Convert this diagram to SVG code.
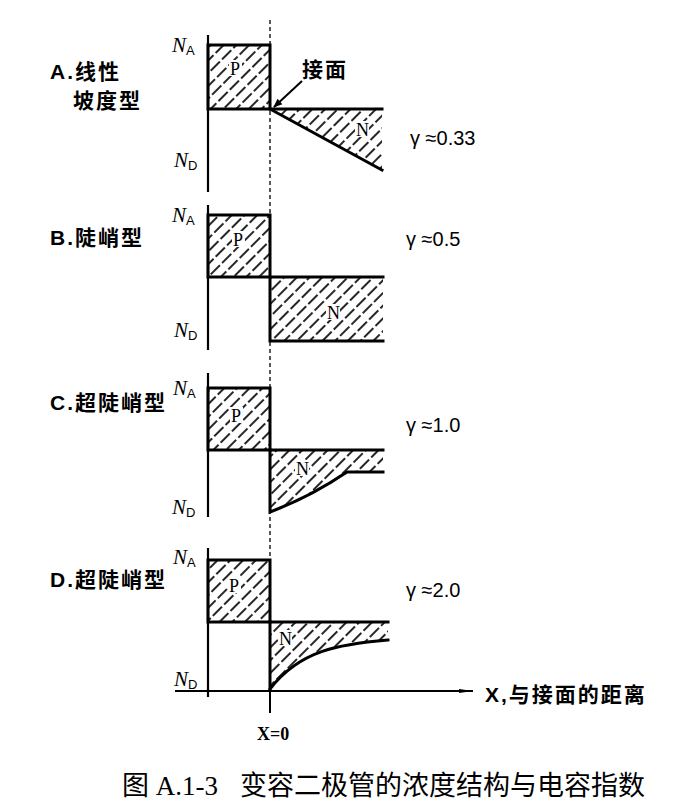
<svg xmlns="http://www.w3.org/2000/svg" width="673" height="807" viewBox="0 0 673 807">
<style>
.bg{fill:#fff}
.edge{stroke:#000;stroke-width:3;fill:none;stroke-linecap:square}
.axis{stroke:#000;stroke-width:2.2;fill:none}
.dash{stroke:#000;stroke-width:1.3;stroke-dasharray:4 3;fill:none}
.hatch{fill:url(#hatch);stroke:none}
.lbl{font-family:"Liberation Sans","Noto Sans CJK SC",sans-serif;font-weight:bold;font-size:21px;fill:#000;letter-spacing:2px}
.nlab{font-family:"Liberation Serif",serif;font-style:italic;font-size:21px;fill:#000}
.sub{font-family:"Liberation Sans",sans-serif;font-style:normal;font-size:13px}
.pn{font-family:"Liberation Serif",serif;font-size:18px;fill:#000}
.gam{font-family:"Liberation Sans",sans-serif;font-size:20px;fill:#000}
.cap{font-family:"Liberation Serif","Noto Sans CJK SC",serif;font-size:27px;fill:#000}
</style>
<defs>
<pattern id="hatch" patternUnits="userSpaceOnUse" width="9" height="16" patternTransform="rotate(45)">
<line x1="1" y1="0" x2="1" y2="16" stroke="#000" stroke-width="1.7" stroke-dasharray="13 3"/>
</pattern>
<marker id="arr" viewBox="0 0 10 10" refX="9" refY="5" markerWidth="10" markerHeight="9" orient="auto" markerUnits="userSpaceOnUse">
<path d="M0,1 L10,5 L0,9 z" fill="#000"/>
</marker>
<marker id="arrx" viewBox="0 0 10 10" refX="10" refY="5" markerWidth="14" markerHeight="7" orient="auto" markerUnits="userSpaceOnUse" preserveAspectRatio="none">
<path d="M0,2 L10,5 L0,8 z" fill="#000"/>
</marker>
</defs>
<rect class="bg" x="0" y="0" width="673" height="807"/>

<g id="connectors">
<line class="dash" x1="270" y1="20" x2="270" y2="713"/>
<line class="axis" x1="208" y1="35" x2="208" y2="192"/>
<line class="axis" x1="208" y1="205" x2="208" y2="350"/>
<line class="axis" x1="208" y1="373" x2="208" y2="517"/>
<line class="axis" x1="208" y1="548" x2="208" y2="697"/>
<line class="axis" x1="175" y1="691" x2="473" y2="691" marker-end="url(#arrx)"/>
<line x1="270" y1="691" x2="270" y2="713" stroke="#000" stroke-width="2"/>
<line x1="302" y1="81" x2="274" y2="107" stroke="#000" stroke-width="2" marker-end="url(#arr)"/>
</g>

<g id="panel-a">
<rect class="hatch" x="208" y="45" width="62" height="64"/>
<rect class="edge" x="208" y="45" width="62" height="64"/>
<polygon class="hatch" points="270,109 382,109 382,170"/>
<line class="edge" x1="270" y1="109" x2="382" y2="109"/>
<line class="edge" x1="270" y1="109" x2="382" y2="170"/>
<rect x="229" y="60" width="13" height="16" fill="#fff"/>
<text class="pn" x="230" y="75">P</text>
<rect x="355" y="121" width="14" height="16" fill="#fff"/>
<text class="pn" x="356" y="136">N</text>
<text class="nlab" x="172" y="52">N<tspan class="sub" dy="3">A</tspan></text>
<text class="nlab" x="174" y="167">N<tspan class="sub" dy="3">D</tspan></text>
<text class="lbl" x="50" y="79">A.线性</text>
<text class="lbl" x="73" y="108">坡度型</text>
<text class="lbl" x="302" y="77" font-size="20" letter-spacing="0">接面</text>
<text class="gam" x="410" y="145">γ ≈0.33</text>
</g>

<g id="panel-b">
<rect class="hatch" x="208" y="215" width="62" height="62"/>
<rect class="edge" x="208" y="215" width="62" height="62"/>
<rect class="hatch" x="270" y="277" width="113" height="64"/>
<polyline class="edge" points="383,277 270,277 270,341 383,341"/>
<rect x="232" y="231" width="13" height="16" fill="#fff"/>
<text class="pn" x="233" y="246">P</text>
<rect x="326" y="304" width="14" height="16" fill="#fff"/>
<text class="pn" x="327" y="319">N</text>
<text class="nlab" x="172" y="222">N<tspan class="sub" dy="3">A</tspan></text>
<text class="nlab" x="174" y="337">N<tspan class="sub" dy="3">D</tspan></text>
<text class="lbl" x="50" y="245">B.陡峭型</text>
<text class="gam" x="406" y="246">γ ≈0.5</text>
</g>

<g id="panel-c">
<rect class="hatch" x="208" y="388" width="62" height="62"/>
<rect class="edge" x="208" y="388" width="62" height="62"/>
<path class="hatch" d="M270,450 L383,450 L383,472 L347,472 Q310,497 270,512 Z"/>
<line class="edge" x1="270" y1="450" x2="383" y2="450"/>
<path class="edge" d="M270,450 L270,512 Q310,497 347,472 L383,472"/>
<rect x="230" y="407" width="13" height="16" fill="#fff"/>
<text class="pn" x="231" y="422">P</text>
<rect x="295" y="460" width="14" height="16" fill="#fff"/>
<text class="pn" x="296" y="475">N</text>
<text class="nlab" x="173" y="395">N<tspan class="sub" dy="3">A</tspan></text>
<text class="nlab" x="172" y="514">N<tspan class="sub" dy="3">D</tspan></text>
<text class="lbl" x="50" y="410">C.超陡峭型</text>
<text class="gam" x="406" y="432">γ ≈1.0</text>
</g>

<g id="panel-d">
<rect class="hatch" x="208" y="560" width="62" height="62"/>
<rect class="edge" x="208" y="560" width="62" height="62"/>
<path class="hatch" d="M270,622 L388,622 L388,640 C340,644 300,650 270,689 Z"/>
<line class="edge" x1="270" y1="622" x2="388" y2="622"/>
<line class="edge" x1="270" y1="622" x2="270" y2="689"/>
<path class="edge" d="M270,689 C300,650 340,644 388,640" stroke-width="2.5"/>
<rect x="228" y="577" width="13" height="16" fill="#fff"/>
<text class="pn" x="229" y="592">P</text>
<rect x="278" y="630" width="14" height="16" fill="#fff"/>
<text class="pn" x="279" y="645">N</text>
<text class="nlab" x="173" y="564">N<tspan class="sub" dy="3">A</tspan></text>
<text class="nlab" x="174" y="686">N<tspan class="sub" dy="3">D</tspan></text>
<text class="lbl" x="50" y="587">D.超陡峭型</text>
<text class="gam" x="406" y="597">γ ≈2.0</text>
</g>

<g id="axis-labels">
<text class="pn" x="257" y="740" font-weight="bold" font-size="19">X=0</text>
<text class="lbl" x="485" y="702" letter-spacing="1">X,与接面的距离</text>
</g>

<g id="caption">
<text class="cap" x="122" y="795">图 A.1-3<tspan x="240">变容二极管的浓度结构与电容指数</tspan></text>
</g>
</svg>
